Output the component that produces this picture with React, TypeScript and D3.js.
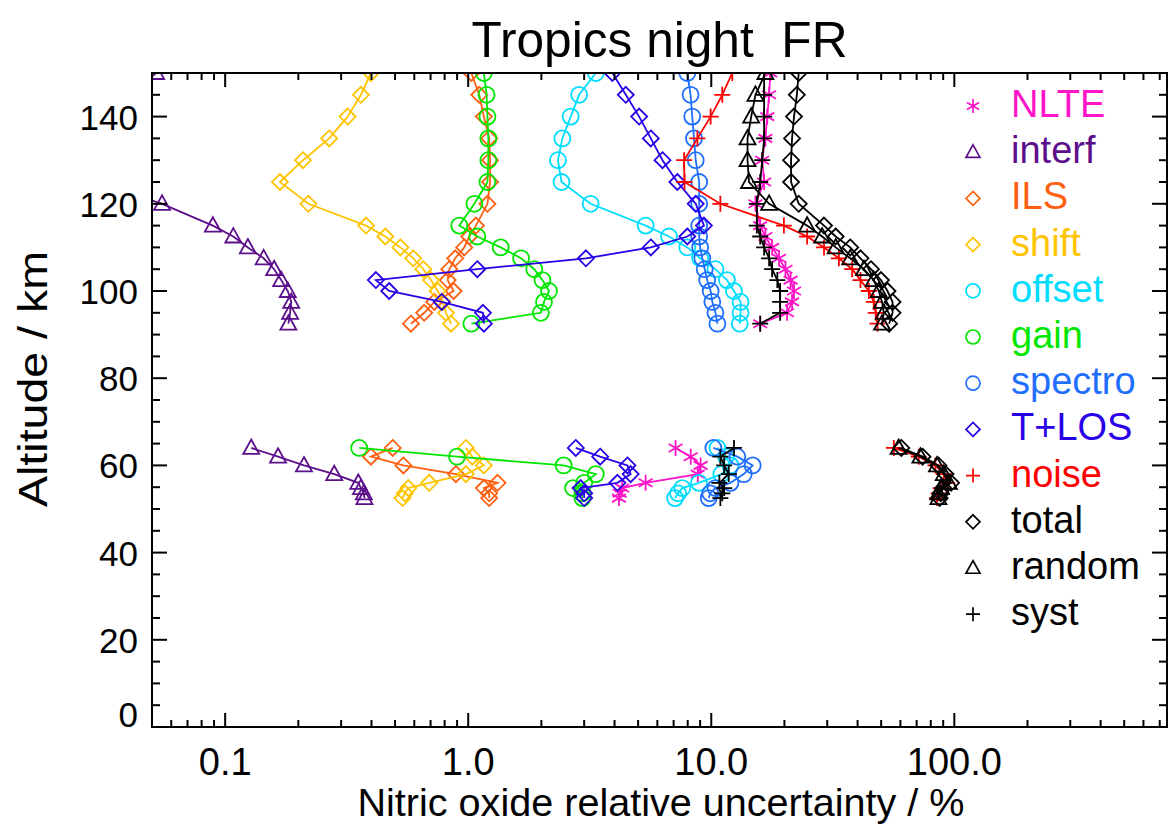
import React from 'react';
import * as d3 from 'd3';

// altitude grids (km)
const altUp = [92.5, 95, 97.5, 100, 102.5, 105, 107.5, 110, 112.5, 115, 120, 125, 130, 135, 140, 145, 150];
const altLow = [64, 62, 60, 58, 56, 54.8, 53.6, 52.5];

// relative uncertainty (%) per error source
const nlteUp = [15.9, 20.5, 21.5, 21.9, 21.2, 20.2, 19.0, 17.8, 16.7, 15.9, 15.2, 16.5, 16.2, 16.7, 17.0, 17.3, 17.5];
const nlteLow = [7.13, 8.23, 9.04, 8.8, 5.37, 4.3, 4.2, 4.17];
const interfUp = [0.182, 0.185, 0.187, 0.181, 0.17, 0.159, 0.144, 0.124, 0.108, 0.089, 0.055, 0.03, 0.025, 0.025, 0.03, 0.04, 0.052];
const interfLow = [0.128, 0.165, 0.211, 0.281, 0.353, 0.362, 0.372, 0.374];
const ilsUp = [0.581, 0.659, 0.725, 0.871, 0.823, 0.836, 0.884, 0.963, 1.01, 1.076, 1.2, 1.23, 1.23, 1.22, 1.16, 1.11, 1.03];
const ilsLow = [0.489, 0.398, 0.541, 0.89, 1.32, 1.16, 1.22, 1.22];
const shiftUp = [0.849, 0.81, 0.785, 0.749, 0.703, 0.653, 0.594, 0.526, 0.456, 0.38, 0.22, 0.168, 0.209, 0.268, 0.319, 0.362, 0.398];
const shiftLow = [0.978, 1.04, 1.16, 0.978, 0.691, 0.567, 0.549, 0.537];
const offsetUp = [13.1, 13.2, 13.2, 12.4, 11.6, 10.4, 9.0, 7.97, 6.7, 5.37, 3.19, 2.42, 2.34, 2.44, 2.64, 2.86, 3.35];
const offsetLow = [10.6, 11.5, 12.0, 11.0, 8.9, 7.6, 7.3, 7.1];
const gainUp = [1.03, 1.99, 2.05, 2.15, 2.02, 1.87, 1.65, 1.36, 1.09, 0.919, 1.06, 1.2, 1.21, 1.21, 1.2, 1.19, 1.16];
const gainLow = [0.356, 0.899, 2.47, 3.35, 3.0, 2.7, 2.95, 2.95];
const spectroUp = [10.6, 10.4, 10.1, 9.94, 9.62, 9.4, 9.19, 9.0, 8.92, 8.92, 8.92, 8.92, 8.63, 8.49, 8.35, 8.22, 7.97];
const spectroLow = [10.2, 12.8, 14.8, 13.6, 12.0, 10.4, 9.9, 9.76];
const tlosUp = [1.16, 1.15, 0.778, 0.473, 0.417, 1.09, 3.05, 5.64, 7.97, 9.33, 8.63, 7.25, 6.3, 5.64, 5.05, 4.45, 3.92];
const tlosLow = [2.77, 3.49, 4.52, 4.66, 4.11, 2.9, 3.0, 3.0];
const noiseUp = [48.3, 47.5, 46.6, 44.5, 41.1, 38.0, 33.5, 29.1, 24.8, 19.9, 10.9, 7.76, 7.73, 8.77, 9.94, 11.1, 12.2];
const noiseLow = [56.4, 71.4, 83.6, 90.5, 93.5, 87.8, 86.2, 84.8];
const totalUp = [53.9, 55.7, 55.7, 53.1, 49.9, 45.4, 41.1, 37.3, 32.5, 29.1, 22.9, 21.3, 21.3, 21.5, 21.9, 22.5, 22.9];
const totalLow = [60.5, 74, 86, 92, 97, 90, 88, 87];
const randomUp = [50.4, 51.3, 50.4, 48.9, 46.6, 42.5, 37.3, 32.5, 28.6, 24.8, 17.3, 14.3, 14.1, 14.1, 14.6, 15.2, 16.7];
const randomLow = [59, 72.5, 84.8, 90.5, 95, 88, 86, 86];
const systUp = [15.9, 19.2, 19.2, 19.2, 18.7, 17.8, 17.3, 16.5, 15.9, 15.4, 15.4, 15.9, 16.2, 16.5, 16.5, 16.5, 16.5];
const systLow = [12.4, 10.9, 11.3, 11.8, 10.8, 11.3, 11.1, 10.9];

const xTickLabels = ['0.1', '1.0', '10.0', '100.0'];
const xTickValues = [0.1, 1, 10, 100];
const yTickValues = [0, 20, 40, 60, 80, 100, 120, 140];

const series = [
  { name: 'NLTE', color: '#FF14C8', sym: 'asterisk', up: nlteUp, low: nlteLow },
  { name: 'interf', color: '#5C0F8B', sym: 'triangle', up: interfUp, low: interfLow },
  { name: 'ILS', color: '#FF6010', sym: 'diamond', up: ilsUp, low: ilsLow },
  { name: 'shift', color: '#FFC400', sym: 'diamond', up: shiftUp, low: shiftLow },
  { name: 'offset', color: '#00DDFF', sym: 'circle', up: offsetUp, low: offsetLow },
  { name: 'gain', color: '#00E600', sym: 'circle', up: gainUp, low: gainLow },
  { name: 'spectro', color: '#1F6FFF', sym: 'circle', up: spectroUp, low: spectroLow },
  { name: 'T+LOS', color: '#2A00E8', sym: 'diamond', up: tlosUp, low: tlosLow },
  { name: 'noise', color: '#FF0000', sym: 'plus', up: noiseUp, low: noiseLow },
  { name: 'total', color: '#000000', sym: 'diamond', up: totalUp, low: totalLow },
  { name: 'random', color: '#000000', sym: 'triangle', up: randomUp, low: randomLow },
  { name: 'syst', color: '#000000', sym: 'plus', up: systUp, low: systLow },
];

const W = 1168;
const H = 827;
const X0 = 152, X1 = 1167, Y0 = 727, Y1 = 73;
const FONT = "'Liberation Sans', Arial, Helvetica, sans-serif";

function symbolPath(kind: string, cx: number, cy: number, s: number) {
  if (kind === 'diamond') {
    return `M${cx},${cy - s}L${cx + s},${cy}L${cx},${cy + s}L${cx - s},${cy}Z`;
  }
  if (kind === 'triangle') {
    return `M${cx},${cy - s * 1.05}L${cx + s},${cy + s * 0.75}L${cx - s},${cy + s * 0.75}Z`;
  }
  if (kind === 'circle') {
    return `M${cx - s},${cy}A${s},${s} 0 1,0 ${cx + s},${cy}A${s},${s} 0 1,0 ${cx - s},${cy}Z`;
  }
  if (kind === 'plus') {
    return `M${cx - s},${cy}H${cx + s}M${cx},${cy - s}V${cy + s}`;
  }
  // asterisk: 6 arms
  const a = s * 0.866, b = s * 0.5;
  return `M${cx},${cy - s}V${cy + s}M${cx - a},${cy - b}L${cx + a},${cy + b}M${cx - a},${cy + b}L${cx + a},${cy - b}`;
}

export default function App() {
  const x = d3.scaleLog().domain([0.05, 750]).range([X0, X1]);
  const y = d3.scaleLinear().domain([0, 150]).range([Y0, Y1]);

  const line = (vals: number[], alts: number[]) =>
    d3.line<number>()
      .x(d => x(d))
      .y((d, i) => y(alts[i]))(vals) || '';

  const xMinor = x.ticks().filter(v => v >= 0.05 && v <= 750);
  const yMinor = d3.range(0, 151, 5);

  const legendY0 = 117;
  const legendDy = 46.2;

  return (
    <svg
      width={W}
      height={H}
      viewBox={`0 0 ${W} ${H}`}
      style={{ position: 'absolute', left: 0, top: 0, background: '#fff' }}
      fontFamily={FONT}
    >
      <rect x={0} y={0} width={W} height={H} fill="#fff" />
      <defs>
        <clipPath id="plotClip">
          <rect x={X0} y={Y1} width={X1 - X0} height={Y0 - Y1} />
        </clipPath>
      </defs>

      <g clipPath="url(#plotClip)">
        {series.map(s => (
          <g key={s.name}>
            <path d={line(s.up, altUp)} fill="none" stroke={s.color} strokeWidth={1.8} />
            <path d={line(s.low, altLow)} fill="none" stroke={s.color} strokeWidth={1.8} />
            {s.up.map((v, i) => (
              <path key={'u' + i} d={symbolPath(s.sym, x(v), y(altUp[i]), 8)} fill="none" stroke={s.color} strokeWidth={1.8} />
            ))}
            {s.low.map((v, i) => (
              <path key={'l' + i} d={symbolPath(s.sym, x(v), y(altLow[i]), 8)} fill="none" stroke={s.color} strokeWidth={1.8} />
            ))}
          </g>
        ))}
      </g>

      {/* frame */}
      <rect x={X0} y={Y1} width={X1 - X0} height={Y0 - Y1} fill="none" stroke="#000" strokeWidth={2} />

      {/* x ticks, bottom and top */}
      {xMinor.map((v, i) => {
        const major = xTickValues.some(t => Math.abs(t - v) < 1e-9);
        const len = major ? 14 : 7;
        return (
          <g key={'xt' + i} stroke="#000" strokeWidth={2}>
            <line x1={x(v)} x2={x(v)} y1={Y0} y2={Y0 - len} />
            <line x1={x(v)} x2={x(v)} y1={Y1} y2={Y1 + len} />
          </g>
        );
      })}
      {xTickValues.map((v, i) => (
        <text key={'xl' + i} x={x(v)} y={775} textAnchor="middle" fontSize={38}>
          {xTickLabels[i]}
        </text>
      ))}

      {/* y ticks, left and right */}
      {yMinor.map(v => {
        const major = v % 20 === 0;
        const len = major ? 15 : 8;
        return (
          <g key={'yt' + v} stroke="#000" strokeWidth={2}>
            <line x1={X0} x2={X0 + len} y1={y(v)} y2={y(v)} />
            <line x1={X1} x2={X1 - len} y1={y(v)} y2={y(v)} />
          </g>
        );
      })}
      {yTickValues.map(v => (
        <text key={'yl' + v} x={138} y={Math.min(y(v) + 13, Y0)} textAnchor="end" fontSize={35}>
          {v}
        </text>
      ))}

      {/* titles */}
      <text
        x={(X0 + X1) / 2}
        y={57}
        textAnchor="middle"
        fontSize={50}
        textLength={376}
        lengthAdjust="spacingAndGlyphs"
        style={{ whiteSpace: 'pre' }}
      >
        {'Tropics night  FR'}
      </text>
      <text
        x={661}
        y={816}
        textAnchor="middle"
        fontSize={39}
        textLength={607}
        lengthAdjust="spacingAndGlyphs"
      >
        Nitric oxide relative uncertainty / %
      </text>
      <text
        transform={`translate(47,379) rotate(-90)`}
        textAnchor="middle"
        fontSize={40}
        textLength={256}
        lengthAdjust="spacingAndGlyphs"
      >
        Altitude / km
      </text>

      {/* legend */}
      {series.map((s, i) => {
        const by = legendY0 + i * legendDy;
        return (
          <g key={'lg' + s.name}>
            <path d={symbolPath(s.sym, 973, by - 11, 7)} fill="none" stroke={s.color} strokeWidth={1.7} />
            <text x={1011} y={by} fontSize={38} fill={s.color}>
              {s.name}
            </text>
          </g>
        );
      })}
    </svg>
  );
}
